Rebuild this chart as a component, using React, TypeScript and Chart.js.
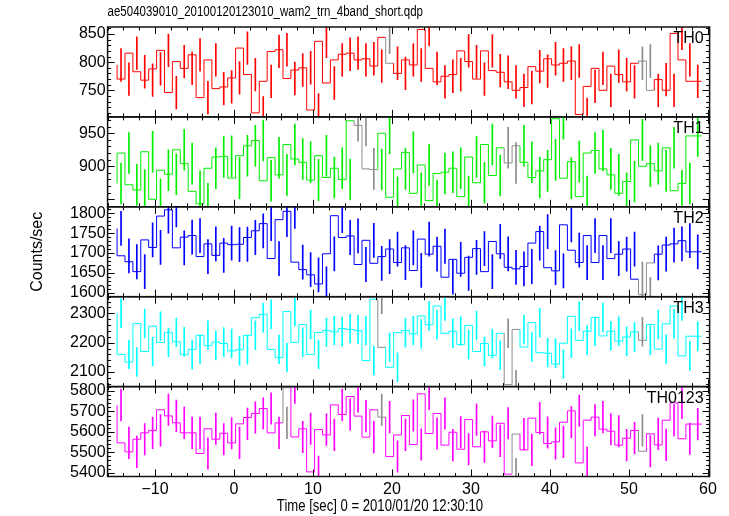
import React, { useEffect, useRef } from 'react';
import { Chart, registerables } from 'chart.js';

Chart.register(...registerables);

// ---------- data ----------
const TITLE = 'ae504039010_20100120123010_wam2_trn_4band_short.qdp';
const X_TITLE = 'Time [sec] 0 = 2010/01/20 12:30:10';
const Y_TITLE = 'Counts/sec';

// bin centres (s), 1 s bins
const TIME = [
  -14.3, -13.3, -12.3, -11.3, -10.3, -9.3, -8.3, -7.3, -6.3, -5.3,
  -4.3, -3.3, -2.3, -1.3, -0.3, 0.7, 1.7, 2.7, 3.7, 4.7,
  5.7, 6.7, 7.7, 8.7, 9.7, 10.7, 11.7, 12.7, 13.7, 14.7,
  15.7, 16.7, 17.7, 18.7, 19.7, 20.7, 21.7, 22.7, 23.7, 24.7,
  25.7, 26.7, 27.7, 28.7, 29.7, 30.7, 31.7, 32.7, 33.7, 34.7,
  35.7, 36.7, 37.7, 38.7, 39.7, 40.7, 41.7, 42.7, 43.7, 44.7,
  45.7, 46.7, 47.7, 48.7, 49.7, 50.7, 51.7, 52.7, 53.7, 54.7,
  55.7, 56.7, 57.7, 58.7,
];
const BIN_HALF = 0.5;

const TH0 = [
  795, 770, 816, 783, 768, 788, 821, 746, 801, 789,
  813, 737, 804, 753, 756, 772, 825, 778, 710, 766,
  819, 822, 771, 786, 790, 715, 837, 763, 804, 814,
  816, 804, 806, 793, 844, 798, 780, 804, 795, 858,
  789, 765, 775, 778, 820, 801, 770, 820, 785, 782,
  765, 750, 755, 792, 784, 806, 795, 798, 802, 707,
  757, 789, 750, 793, 778, 765, 798, 802, 750, 769,
  750, 851, 804, 766,
];
const TH1 = [
  874, 920, 872, 864, 922, 850, 894, 888, 925, 904,
  862, 843, 897, 914, 915, 882, 916, 931, 939, 878,
  913, 887, 933, 911, 906, 879, 916, 883, 897, 880,
  969, 962, 896, 895, 950, 853, 896, 921, 859, 902,
  848, 889, 891, 897, 854, 914, 875, 933, 886, 928,
  905, 931, 906, 883, 893, 910, 972, 882, 907, 854,
  920, 924, 896, 887, 859, 877, 940, 900, 904, 893,
  928, 863, 874, 946,
];
const TH2 = [
  1762, 1693, 1678, 1653, 1733, 1714, 1793, 1809, 1713, 1740,
  1744, 1691, 1723, 1694, 1725, 1721, 1722, 1739, 1756, 1774,
  1686, 1784, 1805, 1677, 1658, 1645, 1622, 1698, 1794, 1739,
  1743, 1671, 1732, 1674, 1691, 1710, 1676, 1713, 1656, 1735,
  1697, 1717, 1639, 1684, 1649, 1689, 1711, 1653, 1729, 1698,
  1664, 1660, 1666, 1725, 1754, 1663, 1655, 1771, 1707, 1676,
  1744, 1676, 1744, 1686, 1697, 1710, 1634, 1595, 1675, 1697,
  1720, 1723, 1731, 1703,
];
const TH3 = [
  2300, 2160, 2134, 2265, 2170, 2256, 2201, 2235, 2203, 2159,
  2177, 2225, 2190, 2202, 2197, 2172, 2176, 2225, 2285, 2297,
  2177, 2149, 2306, 2201, 2262, 2160, 2235, 2241, 2237, 2248,
  2245, 2241, 2139, 2348, 2184, 2116, 2234, 2241, 2230, 2291,
  2261, 2325, 2232, 2239, 2194, 2259, 2170, 2197, 2157, 2232,
  2057, 2245, 2185, 2268, 2166, 2164, 2127, 2198, 2290, 2208,
  2239, 2286, 2223, 2239, 2205, 2219, 2237, 2208, 2262, 2178,
  2264, 2325, 2155, 2222,
];
const TH0123 = [
  5731, 5546, 5502, 5564, 5595, 5607, 5708, 5678, 5644, 5595,
  5595, 5494, 5615, 5564, 5593, 5546, 5639, 5670, 5690, 5714,
  5595, 5644, 5816, 5575, 5615, 5404, 5611, 5585, 5732, 5685,
  5773, 5677, 5574, 5708, 5672, 5479, 5585, 5680, 5538, 5786,
  5592, 5690, 5535, 5598, 5515, 5660, 5527, 5600, 5556, 5642,
  5393, 5589, 5512, 5667, 5597, 5543, 5551, 5647, 5703, 5448,
  5657, 5672, 5613, 5603, 5535, 5569, 5607, 5505, 5590, 5536,
  5657, 5742, 5566, 5638,
];

// 1-sigma error per bin (roughly constant per band)
const ERR_TH0 = 29;
const ERR_TH1 = 31;
const ERR_TH2 = 43;
const ERR_TH3 = 49;
const ERR_TH0123 = 77;

// bins drawn in grey
const GRAY_TH0 = [34, 66, 67];
const GRAY_TH1 = [30, 31, 32, 49, 50];
const GRAY_TH2 = [66, 67];
const GRAY_TH3 = [33, 49, 50, 66];
const GRAY_TH0123 = [21, 33, 50, 66];

// axis ticks
const X_LABELS = [-10, 0, 10, 20, 30, 40, 50, 60];
const TICKS_TH0 = [750, 800, 850];
const TICKS_TH1 = [850, 900, 950];
const LABELS_TH1 = [900, 950];
const TICKS_TH2 = [1600, 1650, 1700, 1750, 1800];
const TICKS_TH3 = [2100, 2200, 2300];
const TICKS_TH0123 = [5400, 5500, 5600, 5700, 5800];

// ---------- layout / style ----------
const W = 729;
const H = 516;
const PLOT_LEFT = 107.6;
const PLOT_RIGHT = 709.6;
const PANEL_TOP = 27;
const PANEL_H = 89.9;
const X_MIN = -16;
const X_MAX = 60.2;
const FONT = "'Liberation Sans', Arial, Helvetica, sans-serif";
const NARROW = 0.82; // Helvetica-Narrow style horizontal compression for the titles
const GRAY = '#8c8c8c';

const PANELS = [
  { name: 'TH0', values: TH0, err: ERR_TH0, gray: GRAY_TH0, color: '#ff0000', min: 702.8, max: 862.4, ticks: TICKS_TH0, labels: TICKS_TH0, minor: 10 },
  { name: 'TH1', values: TH1, err: ERR_TH1, gray: GRAY_TH1, color: '#00ee00', min: 838.6, max: 974.8, ticks: TICKS_TH1, labels: LABELS_TH1, minor: 10 },
  { name: 'TH2', values: TH2, err: ERR_TH2, gray: GRAY_TH2, color: '#0000ff', min: 1589.9, max: 1816.4, ticks: TICKS_TH2, labels: TICKS_TH2, minor: 10 },
  { name: 'TH3', values: TH3, err: ERR_TH3, gray: GRAY_TH3, color: '#00ffff', min: 2050.3, max: 2356.6, ticks: TICKS_TH3, labels: TICKS_TH3, minor: 20 },
  { name: 'TH0123', values: TH0123, err: ERR_TH0123, gray: GRAY_TH0123, color: '#ff00ff', min: 5381.4, max: 5821.5, ticks: TICKS_TH0123, labels: TICKS_TH0123, minor: 20 },
];

const fmt = (v: number) => (v < 0 ? '\u2212' + Math.abs(v) : String(v));

function narrowText(ctx: any, text: string, x: number, y: number, size: number, align: string) {
  ctx.save();
  ctx.font = `${size}px ${FONT}`;
  ctx.textAlign = align;
  ctx.textBaseline = 'middle';
  ctx.translate(x, y);
  ctx.scale(NARROW, 1);
  ctx.fillText(text, 0, 0);
  ctx.restore();
}

const framePlugin = {
  id: 'qdpFrame',
  afterDatasetsDraw(chart: any, _args: any, opts: any) {
    const { ctx, chartArea: a, scales } = chart;
    const xs = scales.x;
    const ys = scales.y;
    ctx.save();
    ctx.strokeStyle = '#000';
    ctx.lineWidth = 1;
    ctx.beginPath();
    for (let v = -16; v <= 60; v += 2) {
      const px = Math.round(xs.getPixelForValue(v)) + 0.5;
      const len = v % 10 === 0 ? 7 : 3.5;
      ctx.moveTo(px, a.bottom);
      ctx.lineTo(px, a.bottom - len);
      ctx.moveTo(px, a.top);
      ctx.lineTo(px, a.top + len);
    }
    const step = opts.minor;
    const start = Math.ceil(ys.min / step) * step;
    for (let v = start; v <= ys.max; v += step) {
      const py = Math.round(ys.getPixelForValue(v)) + 0.5;
      const major = opts.ticks.indexOf(v) >= 0;
      const len = major ? 7 : 3.5;
      ctx.moveTo(a.left, py);
      ctx.lineTo(a.left + len, py);
      ctx.moveTo(a.right, py);
      ctx.lineTo(a.right - len, py);
    }
    ctx.stroke();
    ctx.lineWidth = 1.5;
    ctx.strokeStyle = '#111';
    ctx.strokeRect(a.left, a.top, a.right - a.left, a.bottom - a.top);
    ctx.fillStyle = '#000';
    ctx.font = `16px ${FONT}`;
    ctx.textAlign = 'right';
    ctx.textBaseline = 'middle';
    ctx.fillText(opts.label, a.right - 6, a.top + 12);
    if (opts.title) {
      narrowText(ctx, opts.title, a.left, 12, 14, 'left');
    }
    if (opts.xTitle) {
      narrowText(ctx, opts.xTitle, opts.xTitleX, opts.xTitleY, 16, 'center');
    }
    ctx.restore();
  },
};

function buildConfig(p: any, index: number) {
  const isFirst = index === 0;
  const isLast = index === PANELS.length - 1;
  const top = PANEL_TOP + index * PANEL_H;
  const bottom = top + PANEL_H;
  const n = p.values.length;
  const graySet = new Set<number>(p.gray);

  const stepData = p.values.map((v: number, i: number) => ({ x: TIME[i] - BIN_HALF, y: v }));
  stepData.push({ x: TIME[n - 1] + BIN_HALF, y: p.values[n - 1] });
  const errData = p.values.map((v: number, i: number) => ({ x: TIME[i], y: [v - p.err, v + p.err] }));
  const errColors = p.values.map((_: number, i: number) => (graySet.has(i) ? GRAY : p.color));

  const X_AXIS_H = H - bottom;

  return {
    data: {
      datasets: [
        {
          type: 'bar',
          data: errData,
          backgroundColor: errColors,
          borderWidth: 0,
          barThickness: 1,
          grouped: false,
          clip: 0,
          order: 2,
        },
        {
          type: 'line',
          data: stepData,
          stepped: 'after',
          borderColor: p.color,
          borderWidth: 1,
          pointRadius: 0,
          fill: false,
          clip: 0,
          order: 1,
          segment: {
            borderColor: (ctx: any) => (graySet.has(ctx.p0DataIndex) ? GRAY : undefined),
          },
        },
      ],
    },
    options: {
      responsive: false,
      animation: false,
      events: [],
      layout: {
        padding: {
          left: 0,
          right: W - PLOT_RIGHT,
          top: top,
          bottom: isLast ? 0 : H - bottom,
        },
      },
      scales: {
        x: {
          type: 'linear',
          offset: false,
          min: X_MIN,
          max: X_MAX,
          display: isLast,
          grid: { display: false, drawTicks: false, offset: false },
          border: { display: false },
          afterBuildTicks: (s: any) => {
            s.ticks = X_LABELS.map((v) => ({ value: v }));
          },
          afterFit: (s: any) => {
            s.height = isLast ? X_AXIS_H : 0;
          },
          ticks: {
            color: '#000',
            font: { family: FONT, size: 16 },
            padding: 3,
            maxRotation: 0,
            autoSkip: false,
            callback: (v: number) => fmt(v),
          },
        },
        y: {
          type: 'linear',
          min: p.min,
          max: p.max,
          grid: { display: false, drawTicks: false },
          border: { display: false },
          afterBuildTicks: (s: any) => {
            s.ticks = p.labels.map((v: number) => ({ value: v }));
          },
          afterFit: (s: any) => {
            s.width = PLOT_LEFT;
          },
          ticks: {
            color: '#000',
            font: { family: FONT, size: 16 },
            padding: 2,
            autoSkip: false,
            callback: (v: number) => String(v),
          },
          title: {
            display: index === 2,
            text: Y_TITLE,
            color: '#000',
            font: { family: FONT, size: 16 },
            padding: { top: 28, bottom: 0 },
          },
        },
      },
      plugins: {
        legend: { display: false },
        tooltip: { enabled: false },
        title: { display: false },
        qdpFrame: {
          label: p.name,
          ticks: p.ticks,
          minor: p.minor,
          title: isFirst ? TITLE : null,
          xTitle: isLast ? X_TITLE : null,
          xTitleX: 380,
          xTitleY: 507,
        },
      },
    },
    plugins: [framePlugin],
  };
}

export default function App() {
  const refs = useRef<(HTMLCanvasElement | null)[]>([]);

  useEffect(() => {
    const charts = PANELS.map((p, i) => {
      const canvas = refs.current[i] as HTMLCanvasElement;
      return new Chart(canvas, buildConfig(p, i) as any);
    });
    return () => charts.forEach((c) => c.destroy());
  }, []);

  return (
    <div style={{ position: 'absolute', left: 0, top: 0, width: W, height: H, background: '#fff' }}>
      {PANELS.map((p, i) => (
        <canvas
          key={p.name}
          ref={(el) => {
            refs.current[i] = el;
          }}
          width={W}
          height={H}
          style={{ position: 'absolute', left: 0, top: 0, width: W, height: H }}
        />
      ))}
    </div>
  );
}
